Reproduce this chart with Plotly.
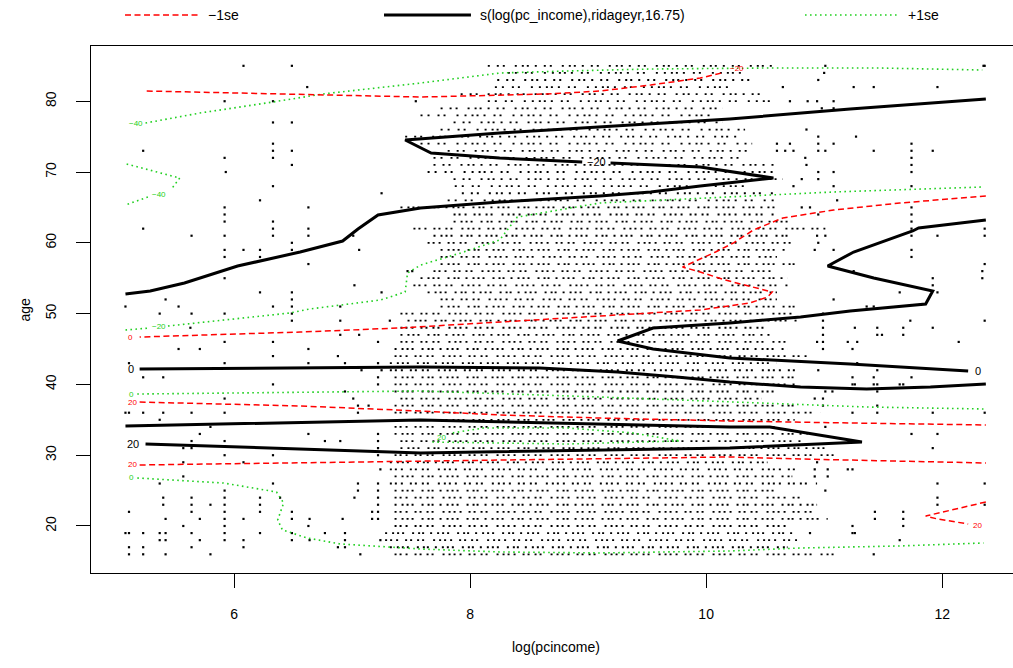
import plotly.graph_objects as go

# ---------------- contour lines (x = log(pcincome), y = age) ----------------
# fitted smooth s(log(pc_income), ridageyr) - black solid
fitA1_x = [5.08, 5.29, 5.58, 6.03, 6.56, 6.92, 7.05, 7.22, 7.58, 8.25, 9.10, 9.53, 9.95, 10.57, 9.95, 9.19]
fitA1_y = [52.77, 53.19, 54.32, 56.72, 58.70, 60.25, 61.95, 63.93, 64.92, 65.76, 66.61, 67.18, 68.02, 69.15, 70.71, 71.27]
fitA2_x = [8.95, 8.25, 7.67, 7.45, 8.25, 9.10, 10.20, 11.22, 12.37]
fitA2_y = [71.41, 71.98, 72.68, 74.52, 75.51, 76.36, 77.49, 78.90, 80.31]
fitB_x = [12.37, 11.80, 11.75, 11.25, 11.03, 11.42, 11.92, 11.86, 11.22, 10.80, 10.20, 9.55, 9.25, 9.55, 10.20, 11.22, 12.22]
fitB_y = [63.22, 62.09, 61.67, 58.70, 56.72, 55.03, 53.19, 51.36, 50.37, 49.52, 48.67, 47.97, 46.13, 45.00, 43.73, 42.88, 41.89]
fitC_x = [5.20, 6.56, 7.58, 8.59, 9.25, 9.75, 10.20, 10.80, 11.36, 11.90, 12.37]
fitC_y = [42.18, 42.32, 42.46, 42.32, 41.75, 41.05, 40.34, 39.63, 39.35, 39.63, 40.06]
fitD_x = [5.08, 7.58, 10.20, 10.54, 11.32, 10.20, 7.58, 5.25]
fitD_y = [34.12, 34.97, 33.98, 33.98, 31.86, 31.02, 30.31, 31.58]

# -1se - red dashed
loA_x = [5.26, 6.56, 7.58, 8.65, 9.10, 9.53, 9.95, 10.13]
loA_y = [81.44, 81.02, 80.59, 81.02, 81.44, 82.29, 83.28, 83.98]
loB_x = [12.37, 11.64, 11.08, 10.65, 10.40, 10.23, 10.08, 9.80, 9.95, 10.16, 10.56, 10.52, 10.37, 9.95, 9.10, 8.25, 7.41, 6.56, 5.20]
loB_y = [66.61, 65.62, 64.63, 63.50, 61.81, 59.97, 58.70, 56.58, 55.88, 54.75, 53.05, 52.34, 51.50, 50.51, 49.66, 48.81, 47.97, 47.40, 46.69]
loC_x = [5.20, 6.56, 7.58, 8.25, 9.10, 10.20, 11.22, 12.37]
loC_y = [37.51, 36.95, 36.24, 35.68, 35.25, 34.83, 34.55, 34.27]
loD_x = [5.20, 7.58, 8.53, 10.20, 10.80, 12.37]
loD_y = [28.62, 29.18, 29.46, 29.75, 29.46, 28.90]
loE_x = [12.37, 11.86, 11.96, 12.22]
loE_y = [23.39, 21.41, 20.99, 20.28]

# +1se - green dotted
hiA_x = [5.25, 5.71, 6.33, 6.75, 7.58, 8.25, 8.82, 9.53, 10.52, 11.47, 12.34]
hiA_y = [76.92, 78.33, 79.89, 81.02, 82.57, 83.98, 84.27, 84.55, 84.69, 84.69, 84.41]
hiB1_x = [5.09, 5.54, 5.47]
hiB1_y = [71.13, 69.15, 67.60]
hiB2_x = [5.27, 5.08]
hiB2_y = [66.47, 65.34]
hiC1_x = [5.08, 5.29]
hiC1_y = [47.68, 47.97]
hiC2_x = [5.44, 6.47, 6.64, 7.24, 7.45, 7.47, 7.58, 7.92, 8.25, 8.40, 9.10, 10.20, 11.08, 12.34]
hiC2_y = [48.25, 50.08, 50.65, 51.92, 53.05, 55.73, 56.86, 58.56, 60.40, 63.64, 65.62, 66.47, 67.18, 67.88]
hiD_x = [5.18, 7.58, 9.10, 10.20, 11.36, 12.35]
hiD_y = [38.64, 39.07, 38.22, 37.51, 36.81, 36.53]
hiE_x = [7.68, 8.82, 9.78, 9.38, 8.82, 8.11, 7.85]
hiE_y = [31.86, 31.58, 32.01, 33.14, 33.84, 33.84, 33.14]
hiF_x = [5.18, 5.91, 6.36, 6.42, 6.37, 6.41, 6.62, 6.90, 7.58, 8.25, 9.10, 10.20, 10.80, 11.64, 12.35]
hiF_y = [26.78, 26.07, 24.80, 23.25, 20.85, 19.44, 18.31, 17.46, 16.75, 16.33, 16.19, 16.47, 16.89, 17.18, 17.60]

# contour labels: (text, x, y)
fit_labels = [("\u221220", 9.07, 71.40), ("0", 12.30, 41.89), ("0", 5.13, 42.18), ("20", 5.14, 31.58)]
lo_labels = [("\u221220", 10.26, 84.60), ("0", 5.12, 46.69), ("20", 5.14, 37.51), ("20", 5.14, 28.62), ("20", 12.30, 20.00)]
hi_labels = [("\u221240", 5.17, 76.80), ("\u221240", 5.36, 66.85), ("\u221220", 5.36, 48.15), ("0", 5.13, 38.64),
             ("20", 7.76, 32.57), ("0", 5.13, 26.78)]

# ---------------- observations ----------------
ages = list(range(85, 15, -1))
dense_lo = [8.15, 8.32, 8.23, 8.21, 7.92, 8.15, 7.75, 7.58, 7.86, 7.75,
            7.45, 7.58, 7.81, 7.69, 7.69, 7.64, 7.86, 7.87, 7.93, 7.81,
            7.41, 7.86, 7.86, 7.52, 7.69, 7.64, 7.75, 7.75, 7.75, 7.69,
            7.58, 7.52, 7.64, 7.75, 7.75, 7.41, 7.47, 7.41, 7.41, 7.41,
            7.36, 7.36, 7.32, 7.32, 7.36, 7.36, 7.36, 7.41, 7.36, 7.36,
            7.41, 7.36, 7.36, 7.41, 7.41, 7.36, 7.32, 7.32, 7.36, 7.32,
            7.36, 7.36, 7.36, 7.36, 7.36, 7.36, 7.28, 7.28, 7.32, 7.36]
dense_hi = [10.60, 10.31, 10.40, 10.19, 10.47, 10.54, 10.14, 10.03, 10.14, 10.33,
            10.31, 10.39, 10.39, 10.31, 10.60, 10.60, 10.65, 10.36, 10.60, 10.60,
            10.60, 10.60, 10.74, 11.01, 10.74, 10.77, 10.67, 10.60, 10.80, 10.60,
            10.69, 10.69, 10.60, 10.60, 10.80, 10.77, 10.77, 10.56, 10.54, 10.69,
            10.69, 10.86, 10.60, 10.79, 10.77, 10.77, 10.60, 10.47, 10.77, 10.97,
            10.75, 10.60, 10.86, 10.80, 11.03, 11.08, 10.52, 10.77, 10.73, 10.94,
            10.60, 10.80, 10.94, 10.94, 11.03, 10.69, 10.77, 10.77, 10.69, 11.11]
sparse_x = {
    85: [6.08, 6.49, 11.01, 12.35, 12.36], 84: [11.00], 83: [10.95],
    82: [6.62, 10.65, 11.25, 11.42, 11.96], 81: [],
    80: [5.92, 6.33, 7.54, 10.71, 10.86, 10.94, 11.08], 79: [10.98, 11.08], 78: [],
    77: [6.33, 6.49], 76: [10.85], 75: [10.95, 11.27],
    74: [6.33, 10.60, 10.71, 10.95, 11.08, 11.74],
    73: [5.23, 6.33, 6.49, 10.60, 10.67, 10.74, 10.95, 11.01, 11.42, 11.74, 11.92],
    72: [5.92, 6.33, 10.84, 11.74], 71: [6.49, 10.85, 11.74], 70: [5.93, 10.95, 11.08, 11.74],
    69: [10.81, 10.95], 68: [6.33, 10.74, 11.08, 11.74], 67: [7.25], 66: [6.22, 11.11],
    65: [5.92, 6.63, 10.81, 10.88, 11.74], 64: [5.92, 10.95, 11.74], 63: [5.92, 6.33, 11.74],
    62: [5.23, 6.33, 6.63, 11.74, 12.36],
    61: [5.64, 5.92, 6.33, 6.63, 7.01, 10.94, 11.01, 11.74, 11.96, 12.36],
    60: [6.49, 10.95], 59: [5.92, 6.08, 6.22, 6.49, 7.06, 10.92, 11.08, 11.74],
    58: [5.92, 6.22, 11.74], 57: [6.63, 12.36], 56: [7.47, 7.51, 11.25, 12.34],
    55: [5.92, 11.92, 12.34], 54: [7.02, 11.92], 53: [6.22, 6.49, 7.25, 11.64, 11.96],
    52: [5.42, 6.49, 11.08], 51: [5.08, 5.53, 6.33, 6.49, 6.90, 11.36, 11.42],
    50: [5.37, 5.64, 5.92, 6.49, 10.99], 49: [6.49, 6.90, 7.32, 10.99, 11.73, 12.36],
    48: [5.63, 10.99, 11.26, 11.45, 11.67, 11.92], 47: [6.90, 7.06, 10.99, 11.45, 11.49, 11.67],
    46: [5.92, 6.33, 7.22, 10.94, 10.99, 11.20, 11.28, 12.14], 45: [5.53, 5.71, 6.63, 10.99, 11.24],
    44: [6.33, 6.88], 43: [5.11, 5.92, 6.63, 6.94, 7.22, 11.28], 42: [7.08, 7.25, 10.95, 11.45],
    41: [5.23, 5.40, 7.22, 11.24, 11.42, 11.74], 40: [6.33, 7.22, 11.24, 11.26, 11.42, 11.45, 11.64, 11.67],
    39: [6.94, 11.01, 11.07, 11.45], 38: [5.92, 7.01, 10.92, 10.99], 37: [7.05, 7.14, 10.99, 11.45],
    36: [5.08, 5.11, 5.23, 5.40, 5.64, 5.92, 7.05, 11.24, 11.45, 11.92, 12.36], 35: [5.37],
    34: [5.80, 11.01], 33: [5.71, 6.63, 7.22, 11.74, 11.96], 32: [5.64, 5.92, 6.77, 6.90, 7.22],
    31: [5.57, 5.64, 7.22, 11.92], 30: [5.92, 6.33, 7.22], 29: [5.57, 6.08, 10.94],
    28: [7.24, 10.92, 11.03, 11.20, 11.24], 27: [5.57, 10.92, 11.03],
    26: [5.37, 6.33, 7.05, 7.22, 11.96, 12.36], 25: [5.92, 7.05, 7.22, 11.01],
    24: [5.40, 5.64, 5.92, 6.22, 6.39, 7.02, 7.22, 11.96],
    23: [5.40, 5.64, 5.80, 5.92, 6.22, 7.22, 11.96, 12.36],
    22: [5.11, 5.64, 5.92, 6.22, 6.49, 7.17, 7.22, 11.43, 11.67],
    21: [5.42, 5.71, 5.92, 6.08, 6.49, 6.64, 6.92, 7.17, 7.22, 11.43, 11.67],
    20: [5.57, 5.92, 6.63, 11.24, 11.67],
    19: [5.08, 5.11, 5.23, 5.37, 5.42, 5.64, 5.92, 6.22, 6.49, 6.77, 6.94, 10.88, 11.24, 11.26],
    18: [5.37, 5.42, 5.71, 5.92, 6.08, 6.49, 6.64, 6.94, 7.24, 11.64],
    17: [5.11, 5.23, 5.64, 6.08, 6.88, 6.94],
    16: [5.11, 5.23, 5.42, 5.80, 7.07, 11.42],
}

x_ticks = [6, 8, 10, 12]
y_ticks = [20, 30, 40, 50, 60, 70, 80]

FONT = "Liberation Sans, Arial, Helvetica, sans-serif"
RED = "#FF0000"
GREEN = "#22D022"
BLACK = "#000000"

fig = go.Figure()

# dense rows of observations (drawn as dotted runs between the observed extremes)
patterns = {
    ("old", 0): "2px,5px,2px,8px,2px,4px,2px,11px,2px,6px,2px,5px,2px,3px",
    ("old", 1): "2px,7px,2px,4px,2px,10px,2px,5px,2px,3px,2px,6px",
    ("young", 0): "2px,3px,2px,4px,2px,7px,2px,3px,2px,5px,2px,3px,2px,9px,2px,4px",
    ("young", 1): "2px,5px,2px,3px,2px,3px,2px,8px,2px,4px,2px,2px,2px,6px",
}
for key, dash in patterns.items():
    xs, ys = [], []
    for a, lo, hi in zip(ages, dense_lo, dense_hi):
        grp = "old" if a >= 66 else "young"
        if (grp, a % 2) != key:
            continue
        xs += [lo, hi, None]
        ys += [a, a, None]
    fig.add_trace(go.Scatter(x=xs, y=ys, mode="lines", showlegend=False, hoverinfo="skip",
                             line=dict(color=BLACK, width=1.8, dash=dash)))

sx, sy = [], []
for a, vals in sparse_x.items():
    for v in vals:
        sx.append(v)
        sy.append(a)
fig.add_trace(go.Scatter(x=sx, y=sy, mode="markers", showlegend=False, hoverinfo="skip",
                         marker=dict(symbol="square", size=2.2, color=BLACK, line=dict(width=0))))

def add_line(x, y, color, width, dash):
    fig.add_trace(go.Scatter(x=x, y=y, mode="lines", showlegend=False, hoverinfo="skip",
                             line=dict(color=color, width=width, dash=dash, shape="linear")))

for x, y in [(hiA_x, hiA_y), (hiB1_x, hiB1_y), (hiB2_x, hiB2_y), (hiC1_x, hiC1_y), (hiC2_x, hiC2_y),
             (hiD_x, hiD_y), (hiE_x, hiE_y), (hiF_x, hiF_y)]:
    add_line(x, y, GREEN, 1.6, "1.6px,3.4px")
for x, y in [(loA_x, loA_y), (loB_x, loB_y), (loC_x, loC_y), (loD_x, loD_y), (loE_x, loE_y)]:
    add_line(x, y, RED, 1.5, "6px,3.5px")
for x, y in [(fitA1_x, fitA1_y), (fitA2_x, fitA2_y), (fitB_x, fitB_y), (fitC_x, fitC_y), (fitD_x, fitD_y)]:
    add_line(x, y, BLACK, 3, "solid")

annotations = []
for t, x, y in fit_labels:
    annotations.append(dict(x=x, y=y, text=t, showarrow=False, xref="x", yref="y",
                            font=dict(family=FONT, size=11, color=BLACK)))
for t, x, y in lo_labels:
    annotations.append(dict(x=x, y=y, text=t, showarrow=False, xref="x", yref="y",
                            font=dict(family=FONT, size=8, color=RED)))
for t, x, y in hi_labels:
    annotations.append(dict(x=x, y=y, text=t, showarrow=False, xref="x", yref="y",
                            font=dict(family=FONT, size=8, color=GREEN)))

# axis titles
annotations.append(dict(x=8.73, y=0, xref="x", yref="paper", yshift=-84, text="log(pcincome)",
                        showarrow=False, font=dict(family=FONT, size=14, color=BLACK)))
annotations.append(dict(x=-0.0835, y=0.5, xref="paper", yref="paper", text="age", textangle=-90,
                        showarrow=False, font=dict(family=FONT, size=14, color=BLACK)))

# legend (top)
legend_items = [("\u22121se", RED, 1.5, "6px,3.5px", 0.0369, 0.1171),
                ("s(log(pc_income),ridageyr,16.75)", BLACK, 3, "solid", 0.3178, 0.4121),
                ("+1se", GREEN, 1.6, "1.6px,3.4px", 0.7744, 0.8764)]
shapes = []
LEG_Y = 1.0588
for txt, col, w, d, x0, x1 in legend_items:
    shapes.append(dict(type="line", xref="paper", yref="paper", x0=x0, x1=x1, y0=LEG_Y, y1=LEG_Y,
                       line=dict(color=col, width=w, dash=d)))
    annotations.append(dict(x=x1 + 0.008, y=LEG_Y, xref="paper", yref="paper", text=txt,
                            xanchor="left", yanchor="middle", showarrow=False,
                            font=dict(family=FONT, size=14, color=BLACK)))

fig.update_layout(
    width=1013, height=668,
    margin=dict(l=91, r=0, t=46, b=95, pad=0),
    paper_bgcolor="white", plot_bgcolor="white",
    showlegend=False,
    font=dict(family=FONT, size=14, color=BLACK),
    annotations=annotations, shapes=shapes,
    xaxis=dict(range=[4.788, 12.60], tickvals=x_ticks, ticktext=[str(v) for v in x_ticks],
               showgrid=False, zeroline=False, showline=True, linecolor=BLACK, linewidth=1.3,
               mirror=True, ticks="outside", ticklen=14, tickwidth=1.3, tickcolor=BLACK,
               ticklabelstandoff=14, tickfont=dict(family=FONT, size=14, color=BLACK)),
    yaxis=dict(range=[13.36, 87.80], tickvals=y_ticks, ticktext=[str(v) for v in y_ticks],
               showgrid=False, zeroline=False, showline=True, linecolor=BLACK, linewidth=1.3,
               mirror=False, ticks="outside", ticklen=14, tickwidth=1.3, tickcolor=BLACK,
               tickangle=-90, ticklabelstandoff=14, tickfont=dict(family=FONT, size=14, color=BLACK)),
)

fig.write_html("out.html", config={"displayModeBar": False})
